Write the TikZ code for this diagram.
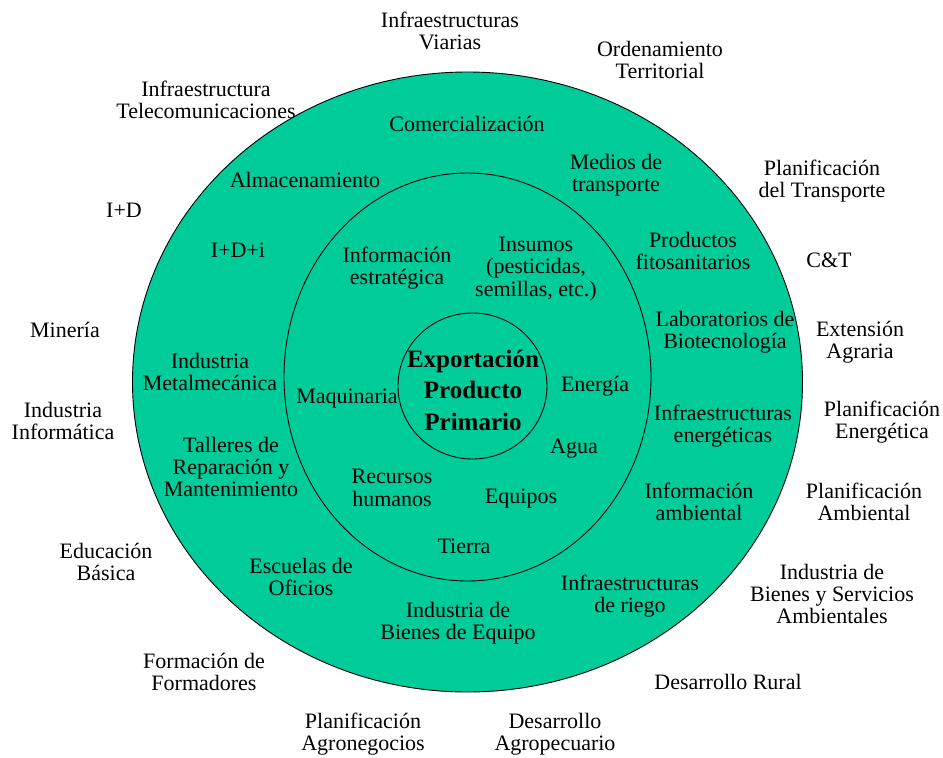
\documentclass[tikz,border=0pt]{standalone}
\usepackage{fontspec}
\setmainfont{Liberation Serif}
\usepackage{xcolor}
\usepackage{tikz}
\usetikzlibrary{shapes.geometric}
\definecolor{ringgreen}{RGB}{0,204,153}

\begin{document}
\begin{tikzpicture}[x=1pt, y=-1pt,
  ring/.style={ellipse, draw=black, line width=0.9pt, inner sep=0pt,
               minimum width=#1},
  lbl/.style={align=center, inner sep=0pt,
              font=\fontsize{22}{22.3}\selectfont},
  core/.style={align=center, inner sep=0pt,
               font=\fontsize{25}{31.5}\selectfont\bfseries}
]
  \useasboundingbox (0,0) rectangle (943,758);
  % rings
  \node[ring=670pt, fill=ringgreen, minimum height=620pt] (outer) at (467.5,382) {};
  \node[ring=367pt, minimum height=408pt] (middle) at (467.5,377) {};
  \node[ring=149pt, minimum height=146pt] (inner) at (472.5,386) {};
  \node[core] (export) at (473,390) {Exportación\\Producto\\Primario};

  % inner ring
  \node[lbl] (infoestr) at (397,268) {Información\\estratégica};
  \node[lbl] (insumos)  at (536,269) {Insumos\\(pesticidas,\\semillas, etc.)};
  \node[lbl] (maquina)  at (347,399) {Maquinaria};
  \node[lbl] (energia)  at (595,386) {Energía};
  \node[lbl] (agua)     at (574,449) {Agua};
  \node[lbl] (rrhh)     at (392,488) {Recursos\\humanos};
  \node[lbl] (equipos)  at (521,499) {Equipos};
  \node[lbl] (tierra)   at (464,546) {Tierra};

  % middle ring
  \node[lbl] (comerc)   at (467,124) {Comercialización};
  \node[lbl] (almacen)  at (305,180) {Almacenamiento};
  \node[lbl] (medios)   at (616,175) {Medios de\\transporte};
  \node[lbl] (idi)      at (238,250) {I+D+i};
  \node[lbl] (fitosan)  at (693,251) {Productos\\fitosanitarios};
  \node[lbl] (biotec)   at (725,332) {Laboratorios de\\Biotecnología};
  \node[lbl] (metalm)   at (210,372) {Industria\\Metalmecánica};
  \node[lbl] (infener)  at (723,426) {Infraestructuras\\energéticas};
  \node[lbl] (talleres) at (231,467) {Talleres de\\Reparación y\\Mantenimiento};
  \node[lbl] (infoamb)  at (699,502) {Información\\ambiental};
  \node[lbl] (escuelas) at (301,577) {Escuelas de\\Oficios};
  \node[lbl] (riego)    at (630,596) {Infraestructuras\\de riego};
  \node[lbl] (bienesq)  at (458,623) {Industria de\\Bienes de Equipo};

  % outside
  \node[lbl] (viarias)  at (450,31)  {Infraestructuras\\Viarias};
  \node[lbl] (ordenam)  at (660,60)  {Ordenamiento\\Territorial};
  \node[lbl] (telecom)  at (206,100) {Infraestructura\\Telecomunicaciones};
  \node[lbl] (transp)   at (822,181) {Planificación\\del Transporte};
  \node[lbl] (id)       at (124,210) {I+D};
  \node[lbl] (ct)       at (829,260) {C\&T};
  \node[lbl] (mineria)  at (65,330)  {Minería};
  \node[lbl] (extens)   at (860,342) {Extensión\\Agraria};
  \node[lbl] (informat) at (63,421)  {Industria\\Informática};
  \node[lbl] (planener) at (882,422) {Planificación\\Energética};
  \node[lbl] (planamb)  at (864,502) {Planificación\\Ambiental};
  \node[lbl] (educac)   at (106,562) {Educación\\Básica};
  \node[lbl] (bienserv) at (832,594) {Industria de\\Bienes y Servicios\\Ambientales};
  \node[lbl] (formac)   at (204,672) {Formación de\\Formadores};
  \node[lbl] (rural)    at (728,682) {Desarrollo Rural};
  \node[lbl] (agroneg)  at (363,734) {Planificación\\Agronegocios};
  \node[lbl] (agropec)  at (555,734) {Desarrollo\\Agropecuario};
\end{tikzpicture}
\end{document}
